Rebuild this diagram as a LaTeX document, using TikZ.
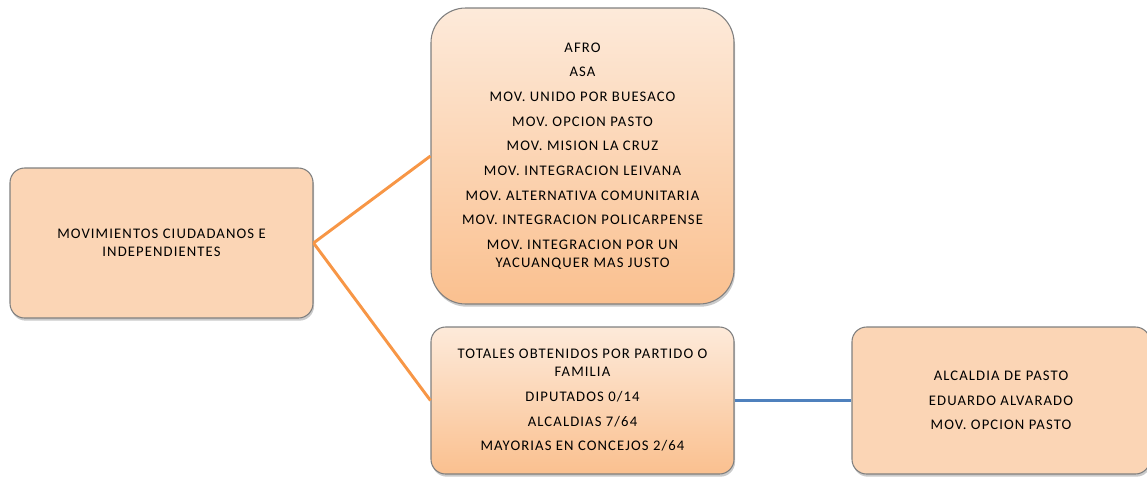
\documentclass[tikz,border=0pt]{standalone}
\usepackage{fontspec}
\setmainfont{Carlito}[LetterSpace=7.5]
\usetikzlibrary{shadows}
\definecolor{peach}{HTML}{FBD5B5}
\definecolor{gtop}{HTML}{FDEADA}
\definecolor{gbot}{HTML}{FAC08F}
\definecolor{orline}{HTML}{F79646}
\definecolor{blline}{HTML}{4F81BD}
\definecolor{bord}{HTML}{7F7F7F}
\tikzset{
  box/.style={draw=bord, line width=0.8pt, align=center, text=black,
    font=\fontsize{11}{13.5}\selectfont, inner sep=2pt,
    drop shadow={shadow xshift=0.8pt, shadow yshift=-2pt, opacity=0.35, fill=black!60}},
  flatbox/.style={box, fill=peach},
  gradbox/.style={box, top color=gtop, bottom color=gbot},
  orconn/.style={draw=orline, line width=2.2pt},
  blconn/.style={draw=blline, line width=2.2pt},
}
\begin{document}
\begin{tikzpicture}[x=0.75pt,y=-0.75pt]
\useasboundingbox (0,0) rectangle (1147,476);
\node[flatbox, rounded corners=11pt, minimum width=227.25pt, minimum height=112.5pt] (mov) at (161.5,243)
  {MOVIMIENTOS CIUDADANOS E\\INDEPENDIENTES};
\node[gradbox, rounded corners=26pt, minimum width=227.25pt, minimum height=222pt] (list) at (582.5,156)
  {AFRO\\[5pt]ASA\\[5pt]MOV. UNIDO POR BUESACO\\[5pt]MOV. OPCION PASTO\\[5pt]MOV. MISION LA CRUZ\\[5pt]MOV. INTEGRACION LEIVANA\\[5pt]MOV. ALTERNATIVA COMUNITARIA\\[5pt]MOV. INTEGRACION POLICARPENSE\\[5pt]MOV. INTEGRACION POR UN\\YACUANQUER MAS JUSTO};
\node[gradbox, rounded corners=11pt, minimum width=227.25pt, minimum height=110.25pt] (tot) at (582.5,400.5)
  {TOTALES OBTENIDOS POR PARTIDO O\\FAMILIA\\[5pt]DIPUTADOS 0/14\\[5pt]ALCALDIAS 7/64\\[5pt]MAYORIAS EN CONCEJOS 2/64};
\node[flatbox, rounded corners=11pt, minimum width=223.5pt, minimum height=110.25pt] (alc) at (1001,400.5)
  {ALCALDIA DE PASTO\\[5pt]EDUARDO ALVARADO\\[5pt]MOV. OPCION PASTO};
\draw[orconn] (mov.east) -- (list.west);
\draw[orconn] (mov.east) -- (tot.west);
\draw[blconn] (tot.east) -- (alc.west);
\end{tikzpicture}
\end{document}
